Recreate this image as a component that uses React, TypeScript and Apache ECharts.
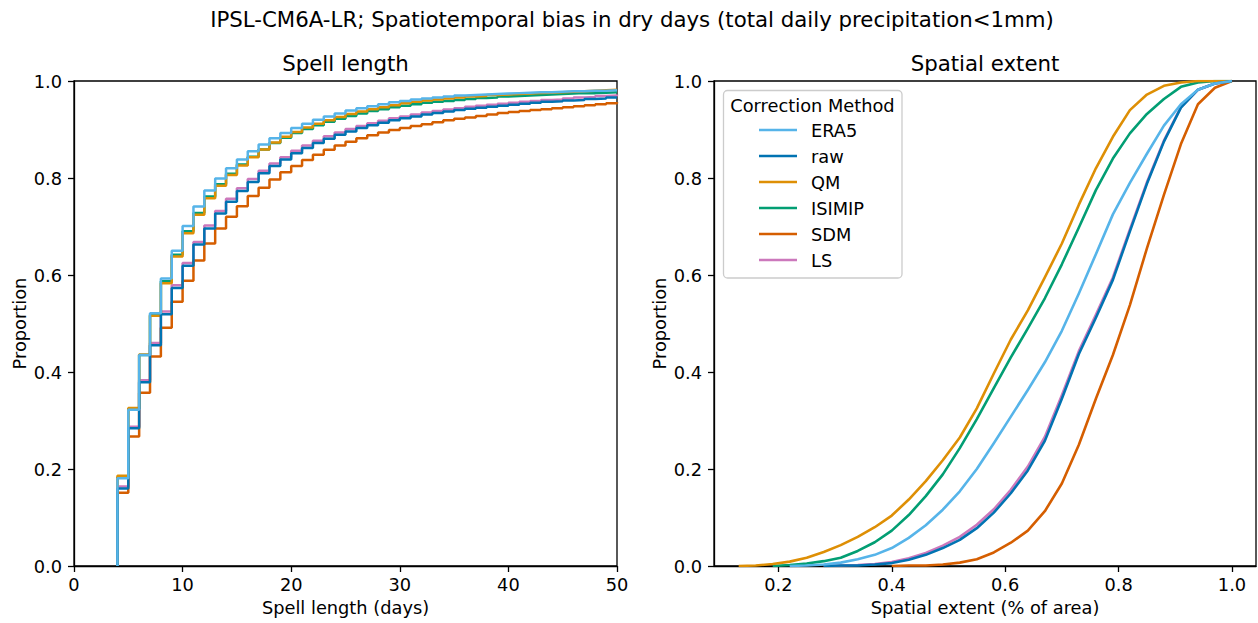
import React, { useEffect, useRef } from "react";
import * as echarts from "echarts";

const suptitle = "IPSL-CM6A-LR; Spatiotemporal bias in dry days (total daily precipitation<1mm)";
const methods = ["ERA5", "raw", "QM", "ISIMIP", "SDM", "LS"];
const drawOrder = ["LS", "SDM", "ISIMIP", "QM", "raw", "ERA5"];
const methodColors: Record<string, string> = {
  ERA5: "#56B4E9",
  raw: "#0173B2",
  QM: "#DE8F05",
  ISIMIP: "#029E73",
  SDM: "#D55E00",
  LS: "#CC78BC",
};

// Left panel: ECDF of spell length (days)
const spellDays = [4, 5, 6, 7, 8, 9, 10, 11, 12, 13, 14, 15, 16, 17, 18, 19, 20, 21, 22, 23, 24, 25, 26, 27, 28, 29, 30, 31, 32, 33, 34, 35, 36, 37, 38, 39, 40, 41, 42, 43, 44, 45, 46, 47, 48, 49, 50];
const spellERA5 = [0.181, 0.322, 0.435, 0.521, 0.593, 0.650, 0.701, 0.741, 0.774, 0.799, 0.820, 0.838, 0.855, 0.869, 0.882, 0.893, 0.903, 0.912, 0.920, 0.927, 0.933, 0.939, 0.944, 0.948, 0.952, 0.956, 0.959, 0.962, 0.964, 0.966, 0.968, 0.970, 0.971, 0.972, 0.973, 0.974, 0.975, 0.976, 0.977, 0.977, 0.978, 0.979, 0.979, 0.980, 0.980, 0.981, 0.981];
const spellQM = [0.186, 0.326, 0.436, 0.516, 0.583, 0.638, 0.686, 0.724, 0.758, 0.784, 0.806, 0.826, 0.843, 0.859, 0.873, 0.885, 0.895, 0.904, 0.912, 0.919, 0.926, 0.932, 0.937, 0.942, 0.946, 0.950, 0.954, 0.957, 0.960, 0.962, 0.964, 0.966, 0.968, 0.969, 0.971, 0.972, 0.973, 0.974, 0.975, 0.976, 0.977, 0.978, 0.979, 0.980, 0.981, 0.982, 0.983];
const spellISIMIP = [0.183, 0.324, 0.435, 0.518, 0.587, 0.642, 0.690, 0.728, 0.762, 0.787, 0.809, 0.828, 0.844, 0.859, 0.872, 0.883, 0.893, 0.901, 0.909, 0.916, 0.922, 0.928, 0.933, 0.938, 0.942, 0.946, 0.949, 0.952, 0.955, 0.957, 0.959, 0.961, 0.963, 0.965, 0.966, 0.968, 0.969, 0.970, 0.971, 0.972, 0.973, 0.974, 0.975, 0.975, 0.976, 0.977, 0.977];
const spellRaw = [0.160, 0.284, 0.379, 0.455, 0.519, 0.573, 0.619, 0.663, 0.696, 0.727, 0.751, 0.773, 0.792, 0.810, 0.825, 0.838, 0.851, 0.862, 0.872, 0.881, 0.889, 0.896, 0.903, 0.909, 0.914, 0.919, 0.923, 0.927, 0.931, 0.934, 0.937, 0.940, 0.943, 0.945, 0.947, 0.949, 0.951, 0.953, 0.955, 0.957, 0.958, 0.960, 0.961, 0.963, 0.964, 0.966, 0.967];
const spellLS = [0.164, 0.287, 0.383, 0.460, 0.525, 0.579, 0.625, 0.668, 0.702, 0.732, 0.757, 0.779, 0.798, 0.815, 0.830, 0.843, 0.856, 0.867, 0.877, 0.886, 0.894, 0.901, 0.907, 0.913, 0.918, 0.923, 0.927, 0.931, 0.935, 0.938, 0.941, 0.944, 0.947, 0.949, 0.951, 0.953, 0.955, 0.957, 0.959, 0.961, 0.962, 0.964, 0.966, 0.967, 0.969, 0.970, 0.972];
const spellSDM = [0.151, 0.267, 0.357, 0.432, 0.491, 0.545, 0.588, 0.630, 0.665, 0.696, 0.720, 0.742, 0.763, 0.780, 0.797, 0.812, 0.825, 0.837, 0.848, 0.858, 0.867, 0.875, 0.882, 0.888, 0.894, 0.899, 0.903, 0.907, 0.911, 0.915, 0.919, 0.922, 0.925, 0.928, 0.931, 0.934, 0.936, 0.938, 0.940, 0.942, 0.944, 0.946, 0.948, 0.950, 0.952, 0.954, 0.956];

// Right panel: ECDF of spatial extent (fraction of area)
const extentX = [0.13, 0.16, 0.19, 0.22, 0.25, 0.28, 0.31, 0.34, 0.37, 0.40, 0.43, 0.46, 0.49, 0.52, 0.55, 0.58, 0.61, 0.64, 0.67, 0.70, 0.73, 0.76, 0.79, 0.82, 0.85, 0.88, 0.91, 0.94, 0.97, 1.00];
const extentQM = [0, 0.001, 0.004, 0.009, 0.017, 0.029, 0.043, 0.060, 0.080, 0.104, 0.137, 0.175, 0.218, 0.265, 0.325, 0.397, 0.467, 0.527, 0.595, 0.665, 0.745, 0.820, 0.885, 0.940, 0.972, 0.990, 0.997, 1.0, 1.0, 1.0];
const extentISIMIP = [null, null, 0, 0.002, 0.005, 0.010, 0.017, 0.031, 0.049, 0.073, 0.105, 0.144, 0.189, 0.243, 0.303, 0.367, 0.430, 0.490, 0.552, 0.622, 0.698, 0.775, 0.840, 0.892, 0.932, 0.963, 0.988, 0.997, 1.0, 1.0];
const extentERA5 = [null, null, null, 0, 0.001, 0.003, 0.007, 0.014, 0.023, 0.037, 0.058, 0.084, 0.116, 0.154, 0.200, 0.253, 0.308, 0.363, 0.420, 0.485, 0.562, 0.643, 0.725, 0.790, 0.850, 0.908, 0.952, 0.982, 0.995, 1.0];
const extentRaw = [null, null, null, null, null, 0, 0.001, 0.001, 0.003, 0.006, 0.013, 0.023, 0.037, 0.054, 0.078, 0.110, 0.150, 0.197, 0.258, 0.345, 0.437, 0.512, 0.590, 0.690, 0.788, 0.875, 0.945, 0.982, 0.995, 1.0];
const extentLS = [null, null, null, null, null, 0, 0.001, 0.002, 0.004, 0.008, 0.016, 0.027, 0.042, 0.060, 0.085, 0.117, 0.157, 0.205, 0.266, 0.352, 0.443, 0.518, 0.595, 0.694, 0.791, 0.877, 0.946, 0.982, 0.995, 1.0];
const extentSDM = [null, null, null, null, null, null, null, null, null, 0, 0.001, 0.001, 0.003, 0.007, 0.014, 0.028, 0.048, 0.073, 0.113, 0.170, 0.250, 0.345, 0.435, 0.538, 0.655, 0.765, 0.870, 0.952, 0.986, 1.0];

const spellTicks = [0, 10, 20, 30, 40, 50];
const extentTicks = [0.2, 0.4, 0.6, 0.8, 1.0];

const spellByMethod: Record<string, number[]> = {
  ERA5: spellERA5, raw: spellRaw, QM: spellQM, ISIMIP: spellISIMIP, SDM: spellSDM, LS: spellLS,
};
const extentByMethod: Record<string, (number | null)[]> = {
  ERA5: extentERA5, raw: extentRaw, QM: extentQM, ISIMIP: extentISIMIP, SDM: extentSDM, LS: extentLS,
};

const FONT = "DejaVu Sans";
const TICK_FS = 17.8;
const TITLE_FS = 21.3;

export default function App() {
  const ref = useRef<HTMLDivElement>(null);
  useEffect(() => {
    if (!ref.current) return;
    const chart = echarts.init(ref.current, undefined, { renderer: "svg" });

    const axisCommon = {
      axisLine: { show: true, onZero: false, lineStyle: { color: "#000", width: 1.3 } },
      axisTick: { show: true, inside: false, length: 6, lineStyle: { color: "#000", width: 1.3 } },
      splitLine: { show: false },
      axisLabel: { color: "#000", fontFamily: FONT, fontSize: TICK_FS, margin: 9 },
      nameTextStyle: { color: "#000", fontFamily: FONT, fontSize: TICK_FS },
    };

    const yAxis = (gridIndex: number) => ({
      ...axisCommon,
      type: "value",
      gridIndex,
      min: 0,
      max: 1,
      interval: 0.2,
      name: "Proportion",
      nameLocation: "middle",
      nameGap: 46,
      axisLabel: { ...axisCommon.axisLabel, margin: 12, formatter: (v: number) => v.toFixed(1) },
    });

    const series: any[] = [];
    drawOrder.forEach((m) => {
      const vals = spellByMethod[m];
      series.push({
        type: "line",
        name: m,
        xAxisIndex: 0,
        yAxisIndex: 0,
        step: "end",
        showSymbol: false,
        symbol: "none",
        color: methodColors[m],
        lineStyle: { width: 2.5, color: methodColors[m] },
        data: [[spellDays[0], 0], ...spellDays.map((d, i) => [d, vals[i]])],
      });
    });
    drawOrder.forEach((m) => {
      const vals = extentByMethod[m];
      series.push({
        type: "line",
        name: m,
        xAxisIndex: 1,
        yAxisIndex: 1,
        showSymbol: false,
        symbol: "none",
        color: methodColors[m],
        lineStyle: { width: 2.6, color: methodColors[m], join: "round" },
        data: extentX.map((x, i) => [x, vals[i]]),
      });
    });

    chart.setOption({
      animation: false,
      backgroundColor: "#fff",
      textStyle: { fontFamily: FONT },
      grid: [
        { left: 74, top: 81, width: 543, height: 485, show: true, borderColor: "#000", borderWidth: 1.3, backgroundColor: "transparent" },
        { left: 714, top: 81, width: 542, height: 485, show: true, borderColor: "#000", borderWidth: 1.3, backgroundColor: "transparent" },
      ],
      xAxis: [
        {
          ...axisCommon,
          type: "value",
          gridIndex: 0,
          min: 0,
          max: 50,
          interval: 10,
          name: "Spell length (days)",
          nameLocation: "middle",
          nameGap: 32,
          axisLabel: { ...axisCommon.axisLabel, customValues: spellTicks },
          axisTick: { ...axisCommon.axisTick, customValues: spellTicks },
        },
        {
          ...axisCommon,
          type: "value",
          gridIndex: 1,
          min: 0.0865,
          max: 1.0424,
          name: "Spatial extent (% of area)",
          nameLocation: "middle",
          nameGap: 32,
          axisLabel: {
            ...axisCommon.axisLabel,
            customValues: extentTicks,
            formatter: (v: number) => v.toFixed(1),
          },
          axisTick: { ...axisCommon.axisTick, customValues: extentTicks },
        },
      ],
      yAxis: [yAxis(0), yAxis(1)],
      legend: {
        data: methods,
        orient: "vertical",
        left: 759,
        top: 120,
        padding: 0,
        icon: "rect",
        itemWidth: 38,
        itemHeight: 2.6,
        itemGap: 6,
        z: 5,
        textStyle: { color: "#000", fontFamily: FONT, fontSize: TICK_FS, lineHeight: 20, padding: [0, 0, 0, 9] },
        selectedMode: false,
      },
      graphic: [
        {
          type: "text",
          x: 632,
          y: 19,
          style: { text: suptitle, fill: "#000", font: `${TITLE_FS}px '${FONT}'`, align: "center", verticalAlign: "middle" },
        },
        {
          type: "text",
          x: 345.5,
          y: 63,
          style: { text: "Spell length", fill: "#000", font: `${TITLE_FS}px '${FONT}'`, align: "center", verticalAlign: "middle" },
        },
        {
          type: "text",
          x: 985,
          y: 63,
          style: { text: "Spatial extent", fill: "#000", font: `${TITLE_FS}px '${FONT}'`, align: "center", verticalAlign: "middle" },
        },
        {
          type: "rect",
          z: 3,
          shape: { x: 723.5, y: 90.5, width: 178.5, height: 187.5, r: 4 },
          style: { fill: "rgba(255,255,255,0.8)", stroke: "#cccccc", lineWidth: 1.3 },
        },
        {
          type: "text",
          z: 4,
          x: 812.5,
          y: 105,
          style: { text: "Correction Method", fill: "#000", font: `${TICK_FS}px '${FONT}'`, align: "center", verticalAlign: "middle" },
        },
      ],
      series,
    });

    return () => chart.dispose();
  }, []);

  return (
    <div
      ref={ref}
      style={{ position: "fixed", left: 0, top: 0, width: 1258, height: 623, background: "#fff" }}
    />
  );
}
